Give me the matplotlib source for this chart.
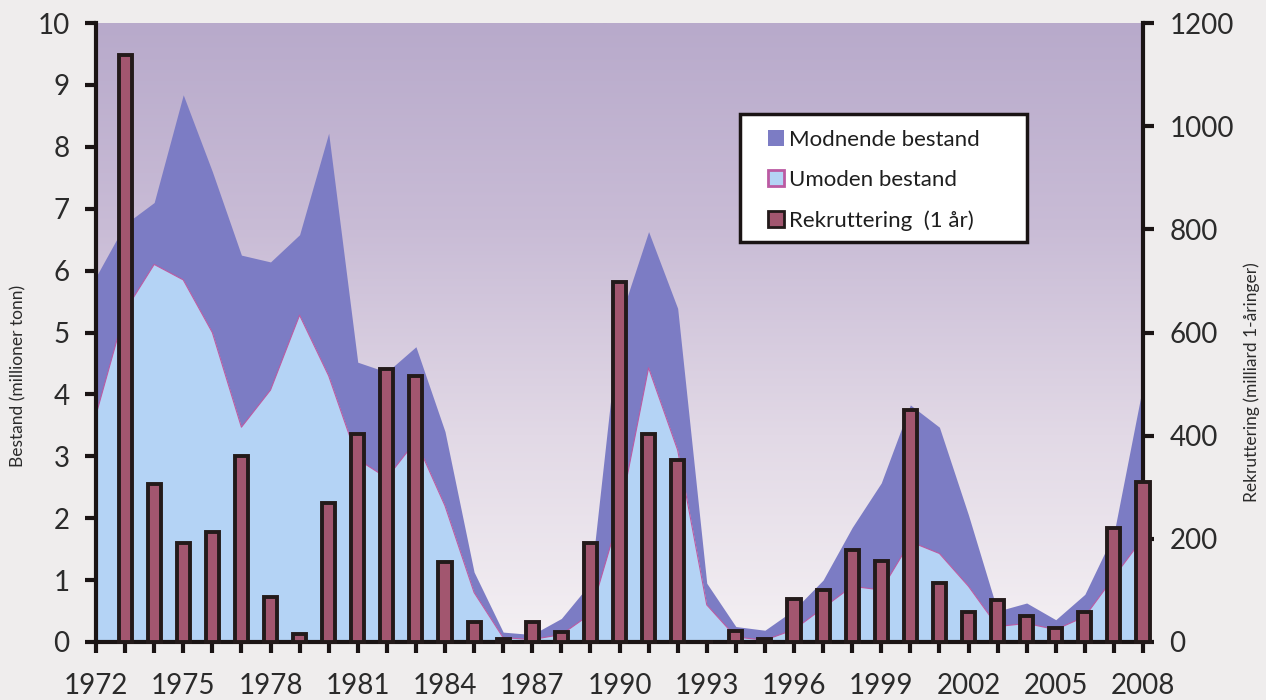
import numpy as np
import matplotlib
matplotlib.use("Agg")
import matplotlib.pyplot as plt
from matplotlib.patches import Patch, Rectangle
from matplotlib.colors import LinearSegmentedColormap

plt.rcParams['font.family'] = ['Lato', 'DejaVu Sans']

# ---------------- data ----------------
years = list(range(1972, 2009))
total_stock = [5.9, 6.75, 7.1, 8.84, 7.6, 6.25, 6.14, 6.58, 8.22, 4.52,
               4.36, 4.77, 3.4, 1.13, 0.16, 0.12, 0.38, 0.95, 5.2, 6.63,
               5.39, 0.95, 0.25, 0.19, 0.52, 1.0, 1.85, 2.57, 3.83, 3.47,
               2.05, 0.5, 0.63, 0.36, 0.77, 1.75, 4.15]
immature_stock = [3.67, 5.35, 6.1, 5.85, 5.0, 3.47, 4.07, 5.28, 4.3, 2.95,
                  2.65, 3.25, 2.2, 0.8, 0.07, 0.04, 0.12, 0.45, 2.05, 4.43,
                  3.1, 0.6, 0.08, 0.03, 0.2, 0.55, 0.9, 0.84, 1.62, 1.43,
                  0.9, 0.25, 0.3, 0.2, 0.41, 1.05, 1.68]
rec_years = list(range(1973, 2009))
recruitment = [1138, 306, 192, 213, 360, 87, 15, 269, 403, 529,
               516, 155, 39, 6, 39, 20, 191, 698, 403, 353,
               0, 21, 5, 83, 101, 178, 157, 450, 114, 58,
               81, 50, 27, 58, 221, 310]
xlabel_years = list(range(1972, 2009, 3))
left_ticks = list(range(0, 11))
right_ticks = list(range(0, 1201, 200))

labels = ["Modnende bestand", "Umoden bestand", "Rekruttering  (1 år)"]
left_label = "Bestand (millioner tonn)"
right_label = "Rekruttering (milliard 1-åringer)"

# ---------------- style ----------------
c_mature = '#7c7cc4'
c_immature = '#b4d3f5'
c_imm_edge = '#bb5aa2'
c_bar = '#a2566f'
c_bar_edge = '#231a1a'
paper = '#efeded'
txt = '#2b2b2b'

W, H = 1266, 700
fig = plt.figure(figsize=(W / 100, H / 100), dpi=100, facecolor=paper)
L, R, T, B = 96, 1143, 23, 642
ax = fig.add_axes([L / W, 1 - B / H, (R - L) / W, (B - T) / H])
ax.set_xlim(1972, 2008)
ax.set_ylim(0, 10)

# background gradient
grad = LinearSegmentedColormap.from_list('bg', ['#f4f0f3', '#e2d9e6', '#c9bcd6', '#b8aacb'])
g = np.linspace(0, 1, 256).reshape(-1, 1)
ax.imshow(g, cmap=grad, aspect='auto', extent=[1972, 2008, 0, 10], origin='lower', zorder=0)

ax.fill_between(years, immature_stock, total_stock, color=c_mature, lw=0, zorder=2)
ax.fill_between(years, 0, immature_stock, facecolor=c_immature, edgecolor='none', zorder=2)
ax.plot(years, immature_stock, color=c_imm_edge, lw=0.8, zorder=2.5)

ax2 = ax.twinx()
ax2.set_ylim(0, 1200)
bars = ax2.bar(rec_years, recruitment, width=0.45, color=c_bar, edgecolor=c_bar_edge,
               linewidth=2.8, zorder=3)
for b in bars:
    b.set_clip_on(False)

# axes styling
for a in (ax, ax2):
    a.spines['top'].set_visible(False)
    for s in ('left', 'right', 'bottom'):
        a.spines[s].set_linewidth(3)
        a.spines[s].set_color('#1a1414')
ax.spines['right'].set_visible(False)
ax2.spines['left'].set_visible(False)
ax2.spines['bottom'].set_visible(False)

ax.set_xticks(years)
ax.set_xticklabels([str(y) if y in xlabel_years else '' for y in years])
ax.set_yticks(left_ticks)
ax.set_yticklabels([str(v) for v in left_ticks])
ax2.set_yticks(right_ticks)
ax2.set_yticklabels([str(v) for v in right_ticks])

ax.tick_params(axis='x', direction='out', length=8, width=3, color='#1a1414',
               labelsize=20, pad=14, labelcolor=txt)
ax.tick_params(axis='y', direction='out', length=8, width=3, color='#1a1414',
               labelsize=20, pad=11, labelcolor=txt)
ax2.tick_params(axis='y', direction='out', length=8, width=3, color='#1a1414',
                labelsize=20, pad=11, labelcolor=txt)

fig.text(18 / W, 1 - 376 / H, left_label, rotation=90, ha='center', va='center',
         fontsize=12.5, color=txt)
fig.text(1252 / W, 1 - 382 / H, right_label, rotation=90, ha='center', va='center',
         fontsize=12.5, color=txt)

# legend box
box = Rectangle((740 / W, 1 - 242 / H), 287 / W, 128 / H, transform=fig.transFigure,
                facecolor='white', edgecolor='#1a1414', linewidth=2.5, zorder=4)
fig.add_artist(box)
handles = [Patch(facecolor=c_mature, edgecolor='none'),
           Patch(facecolor=c_immature, edgecolor=c_imm_edge, linewidth=2),
           Patch(facecolor=c_bar, edgecolor=c_bar_edge, linewidth=2)]
leg = fig.legend(handles, labels, loc='upper left', bbox_to_anchor=(768 / W, 1 - 130 / H),
                 bbox_transform=fig.transFigure, borderaxespad=0, borderpad=0,
                 frameon=False, fontsize=16, handlelength=0.7, handleheight=0.7,
                 handletextpad=0.25, labelspacing=0.9)
leg.set_zorder(5)
for t in leg.get_texts():
    t.set_color('#1e1e1e')

fig.savefig('out.png', dpi=100, facecolor=paper)
